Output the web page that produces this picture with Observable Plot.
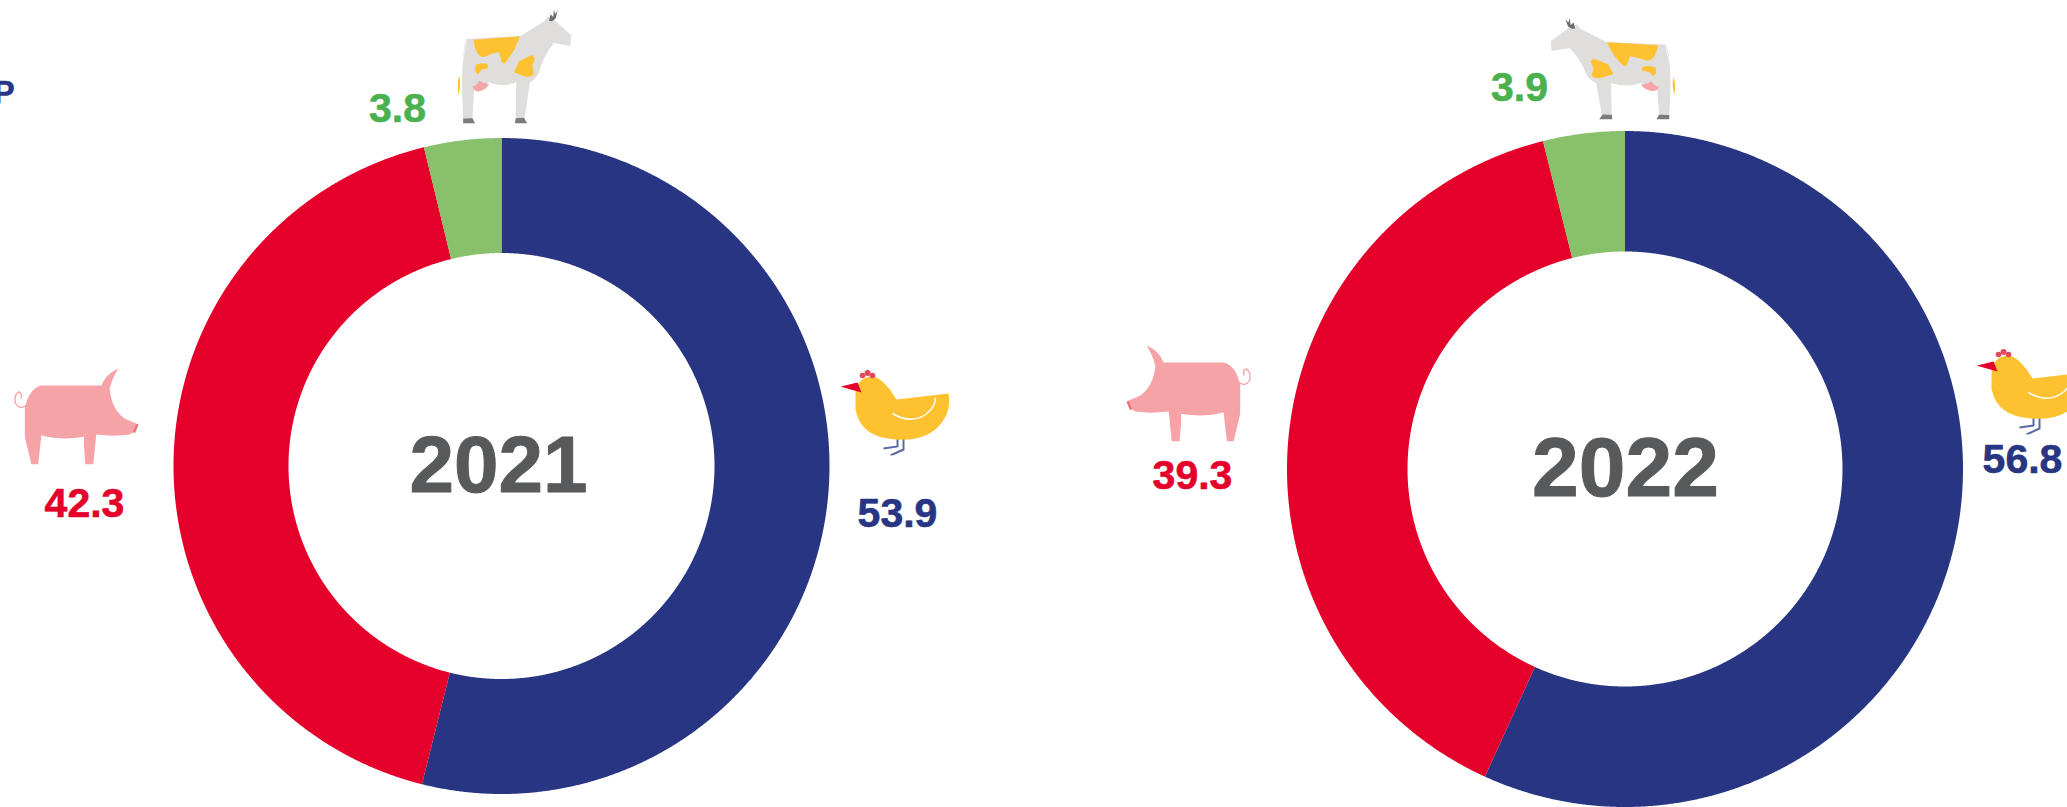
<!DOCTYPE html>
<html>
<head>
<meta charset="utf-8">
<style>html,body{margin:0;padding:0;background:#fff;overflow:hidden}svg{display:block}</style>
<script src="https://cdn.jsdelivr.net/npm/d3@7"></script>
<script src="https://cdn.jsdelivr.net/npm/@observablehq/plot@0.6"></script>
</head>
<body>
<div id="chart"></div>
<script>
const categories = ["Poultry", "Pork", "Beef"];
const years = ["2021", "2022"];
const values2021 = [53.9, 42.3, 3.8];
const values2022 = [56.8, 39.3, 3.9];
const sliceColors = ["#273582", "#e4002b", "#88c06b"];
const labelColors = ["#273582", "#e4002b", "#4bb14f"];

// Layout: ring geometry, in the SVG's pixel units
const rings = [
  {year: years[0], values: values2021, cx: 501.5, cy: 466, outer: 328, inner: 213, yearX: 498, yearSize: 80,
   labels: [[897, 513.5], [84, 503], [397, 108]], yearY: 466},
  {year: years[1], values: values2022, cx: 1625, cy: 469, outer: 338, inner: 217.5, yearX: 1625, yearSize: 84,
   labels: [[2022, 459], [1192, 475.5], [1519, 87.5]], yearY: 469}
];

// Build annular sector outlines from the values
const segs = [];
rings.forEach(r => {
  let acc = 0;
  const total = d3.sum(r.values);
  r.values.forEach((v, i) => {
    const a0 = acc / total * 2 * Math.PI, a1 = (acc + v) / total * 2 * Math.PI;
    acc += v;
    const n = Math.ceil((a1 - a0) / 0.004);
    d3.range(n + 1).forEach(k => {
      const a = a0 + (a1 - a0) * k / n;
      segs.push({
        key: r.year + "-" + categories[i], category: categories[i],
        x1: r.cx + r.outer * Math.sin(a), y1: r.cy - r.outer * Math.cos(a),
        x2: r.cx + r.inner * Math.sin(a), y2: r.cy - r.inner * Math.cos(a)
      });
    });
  });
});

const labels = rings.flatMap(r => r.values.map((v, i) => ({
  text: v.toFixed(1), color: labelColors[i], x: r.labels[i][0], y: r.labels[i][1]
})));

const uri = (viewBox, inner, mirror) =>
  "data:image/svg+xml;charset=utf-8," + encodeURIComponent(
    `<svg xmlns="http://www.w3.org/2000/svg" viewBox="${viewBox}" preserveAspectRatio="none"><g ${mirror ? `transform="translate(${mirror} 0) scale(-1 1)"` : ""}>${inner}</g></svg>`);

const cow = `
<path fill="#fec231" d="M115 225 Q122 250 113 282 Q108 255 115 225Z"/>
<path fill="#dfdedd" d="M137 116 L300 107 L372 62 L380 48 L405 62 L452 105 L450 137 L400 128 Q378 155 362 195 Q352 235 328 245 L312 352 L285 352 L287 245 Q240 262 205 245 L160 268 L155 353 L127 353 L124 280 Q122 150 137 116Z"/>
<path fill="none" stroke="#fff" stroke-width="2" d="M137 122 L118 225"/>
<path fill="#6f6f6f" d="M385 62 L390 42 L398 50 L400 27 L404 42 L412 30 L405 55 L395 63Z"/>
<path fill="#7b7b7b" d="M127 353 L155 352 L163 368 L127 368Z M285 352 L310 351 L320 368 L283 368Z"/>
<path fill="#fec231" d="M158 118 L298 108 Q280 160 250 190 L243 185 L235 155 Q215 158 190 170 Q165 170 158 118Z"/>
<path fill="#fec231" d="M295 182 L322 170 L335 163 L343 175 L335 195 L340 222 Q325 235 305 225 L280 215Z"/>
<path fill="#fec231" d="M165 193 L180 188 L200 190 L203 203 L182 208 L172 222 L162 212Z"/>
<path fill="#f4a5a7" d="M175 240 Q190 250 205 250 Q195 270 170 273 Q158 270 155 258 Q170 255 175 240Z"/>`;

const pig = `
<path fill="none" stroke="#f5a3a6" stroke-width="4" d="M385 155 Q405 170 418 150 Q424 125 408 115 Q396 120 402 135"/>
<path fill="#f5a3a6" d="M108 45 Q145 60 160 96 L340 96 Q378 105 390 165 L390 250 L370 333 L350 333 L340 245 Q280 262 212 250 L212 280 L208 333 L184 333 L175 243 Q120 250 75 243 Q60 238 48 213 L90 195 Q130 165 135 105 Q125 70 108 45Z"/>
<path fill="#ec6e77" d="M48 213 L55 212 L65 237 L58 238Z"/>`;

const chicken = `
<path fill="none" stroke="#5b6aa5" stroke-width="2" d="M63 68 L63 80 L50 86 M57 68 L57 77 L43 79"/>
<path fill="#fec231" d="M15 22 Q18 7 33 7 Q44 10 56 30 L108 24 Q112 45 95 60 Q80 72 55 70 Q20 68 15 40Z"/>
<path fill="#e4002b" d="M0 17 L17 13 L21 23Z"/>
<circle cx="22" cy="6" r="2.8" fill="#e2495f"/><circle cx="27" cy="3.5" r="3" fill="#e2495f"/><circle cx="32" cy="6" r="2.8" fill="#e2495f"/>
<path fill="none" stroke="#fff" stroke-width="1.5" d="M52 44 Q70 55 85 45 Q95 38 95 28"/>`;

const icons = [
  {src: uri("110 25 343 343", cow), x: 514, y: 65.5, w: 114, h: 115},
  {src: uri("110 25 343 343", cow, 563), x: 1612.5, y: 68, w: 125, h: 102},
  {src: uri("48 45 376 288", pig, 472), x: 75.5, y: 416, w: 125, h: 96},
  {src: uri("48 45 376 288", pig), x: 1188.5, y: 393, w: 125, h: 96},
  {src: uri("0 0 109 86", chicken), x: 894.5, y: 412, w: 109, h: 86},
  {src: uri("0 0 109 86", chicken), x: 2030.5, y: 391, w: 109, h: 86}
];

const font = "Liberation Sans, Arial, sans-serif";
const chart = Plot.plot({
  width: 2067, height: 807, margin: 0,
  x: {domain: [0, 2067], range: [0, 2067], axis: null},
  y: {domain: [0, 807], range: [0, 807], axis: null},
  color: {domain: categories, range: sliceColors},
  marks: [
    Plot.area(segs, {x1: "x1", y1: "y1", x2: "x2", y2: "y2", z: "key", fill: "category", curve: "linear"}),
    Plot.image(icons, {x: "x", y: "y", width: "w", height: "h", src: "src", preserveAspectRatio: "none"}),
    Plot.text(labels, {x: "x", y: "y", text: "text", fill: d => d.color, stroke: d => d.color, strokeWidth: 0.6, fontFamily: font, fontWeight: "bold", fontSize: 41}),
    ...rings.map(r => Plot.text([r], {x: "yearX", y: "yearY", text: "year", fill: "#58595b", stroke: "#58595b", strokeWidth: 1, fontFamily: font, fontWeight: "bold", fontSize: r.yearSize})),
    Plot.text(["P"], {x: [14], y: [92], text: d => d, fill: "#273582", stroke: "#273582", strokeWidth: 0.6, textAnchor: "end", fontFamily: font, fontWeight: "bold", fontSize: 32})
  ]
});
document.getElementById("chart").appendChild(chart);
</script>
</body>
</html>
